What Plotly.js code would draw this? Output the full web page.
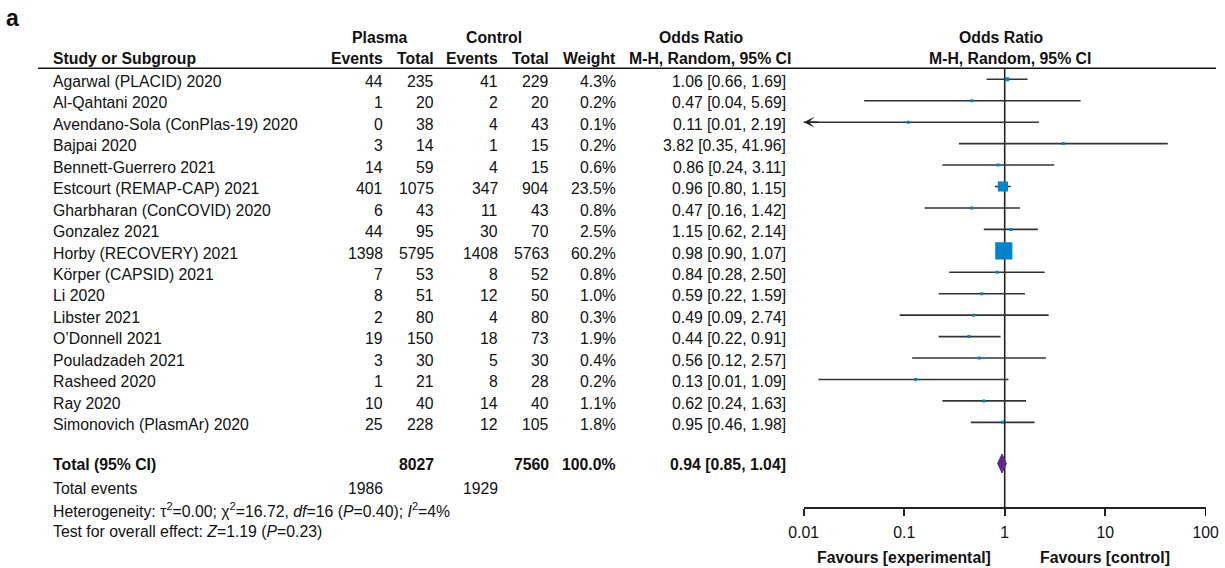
<!DOCTYPE html>
<html>
<head>
<meta charset="utf-8">
<script src="https://cdn.plot.ly/plotly-3.0.1.min.js"></script>
<style>html,body{margin:0;padding:0;background:#fff;}#chart{width:1225px;height:568px;}</style>
</head>
<body>
<div id="chart"></div>
<script>
// ---------------- data ----------------
const studies = ["Agarwal (PLACID) 2020","Al-Qahtani 2020","Avendano-Sola (ConPlas-19) 2020","Bajpai 2020","Bennett-Guerrero 2021","Estcourt (REMAP-CAP) 2021","Gharbharan (ConCOVID) 2020","Gonzalez 2021","Horby (RECOVERY) 2021","Körper (CAPSID) 2021","Li 2020","Libster 2021","O’Donnell 2021","Pouladzadeh 2021","Rasheed 2020","Ray 2020","Simonovich (PlasmAr) 2020"];
const plasmaEvents = [44,1,0,3,14,401,6,44,1398,7,8,2,19,3,1,10,25];
const plasmaTotal  = [235,20,38,14,59,1075,43,95,5795,53,51,80,150,30,21,40,228];
const controlEvents = [41,2,4,1,4,347,11,30,1408,8,12,4,18,5,8,14,12];
const controlTotal  = [229,20,43,15,15,904,43,70,5763,52,50,80,73,30,28,40,105];
const weights = [4.3,0.2,0.1,0.2,0.6,23.5,0.8,2.5,60.2,0.8,1.0,0.3,1.9,0.4,0.2,1.1,1.8];
const oddsRatio = [1.06,0.47,0.11,3.82,0.86,0.96,0.47,1.15,0.98,0.84,0.59,0.49,0.44,0.56,0.13,0.62,0.95];
const ciLow  = [0.66,0.04,0.006,0.35,0.24,0.80,0.16,0.62,0.90,0.28,0.22,0.09,0.22,0.12,0.014,0.24,0.46];
const ciHigh = [1.69,5.69,2.19,41.96,3.11,1.15,1.42,2.14,1.07,2.50,1.59,2.74,0.91,2.57,1.09,1.63,1.98];
const pooledOR = 0.94, pooledLow = 0.85, pooledHigh = 1.04, pooledWeight = 100.0;
const tau2 = "0.00", chi2 = "16.72", dfHet = 16, pHet = "0.40", i2 = "4%";
const zOverall = "1.19", pOverall = "0.23";
const tickValues = [0.01, 0.1, 1, 10, 100];
const tickLabels = ["0.01", "0.1", "1", "10", "100"];
const xLabelLeft = "Favours [experimental]";
const xLabelRight = "Favours [control]";

// ---------------- layout helpers ----------------
const W = 1225, H = 568;
const ROW0 = 79.3, ROWH = 21.44;          // pixel of first row, row pitch
const pxToRow = p => (p - ROW0) / ROWH;
const AXIS_PX = 507;
const xDom = [803.7 / W, 1205.7 / W];
const n = studies.length;
const totalRow = 17.92;
const TOFF = 2.2 / ROWH;                   // text sits slightly below the mark row
const eventsRowT = pxToRow(488.0), hetRowT = pxToRow(509.6), testRowT = pxToRow(531.2);
const head1 = pxToRow(37.0), head2 = pxToRow(58.6);
const axisRow = pxToRow(AXIS_PX);
const FONT = "Liberation Sans, Arial, Helvetica, sans-serif";
const FS = 15.8;
const TXT = "#111";

const ann = [];
function txt(text, px, row, anchor, bold, extra) {
  ann.push(Object.assign({
    text: bold ? "<b>" + text + "</b>" : text,
    x: px / W, xref: "paper", y: row, yref: "y",
    xanchor: anchor, yanchor: "middle", showarrow: false, borderpad: 0,
    font: {family: FONT, size: FS, color: TXT}
  }, extra || {}));
}

// column right edges (px)
const colPE = 384.3, colPT = 435, colCE = 499, colCT = 550, colW = 616.7, colOR = 786.7, colName = 52;

// header
txt("a", 5, pxToRow(17.5), "left", true, {font: {family: FONT, size: 23, color: TXT}});
txt("Plasma", 379.5, head1, "center", true);
txt("Control", 494, head1, "center", true);
txt("Odds Ratio", 701, head1, "center", true);
txt("Odds Ratio", 1001.2, head1, "center", true);
txt("Study or Subgroup", colName, head2, "left", true);
txt("Events", colPE, head2, "right", true);
txt("Total", colPT, head2, "right", true);
txt("Events", colCE, head2, "right", true);
txt("Total", colCT, head2, "right", true);
txt("Weight", colW, head2, "right", true);
txt("M-H, Random, 95% CI", 710, head2, "center", true);
txt("M-H, Random, 95% CI", 1009.7, head2, "center", true);

const fmtCI = (o, l, h) => o.toFixed(2) + " [" + l.toFixed(2) + ", " + h.toFixed(2) + "]";
for (let i = 0; i < n; i++) {
  const r = i + TOFF;
  txt(studies[i], colName, r, "left");
  txt(String(plasmaEvents[i]), colPE, r, "right");
  txt(String(plasmaTotal[i]), colPT, r, "right");
  txt(String(controlEvents[i]), colCE, r, "right");
  txt(String(controlTotal[i]), colCT, r, "right");
  txt(weights[i].toFixed(1) + "%", colW, r, "right");
  txt(fmtCI(oddsRatio[i], ciLow[i], ciHigh[i]), colOR, r, "right");
}
const sum = a => a.reduce((s, v) => s + v, 0);
const tr = totalRow + TOFF * 0.6;
txt("Total (95% CI)", colName, tr, "left", true);
txt(String(sum(plasmaTotal)), colPT, tr, "right", true);
txt(String(sum(controlTotal)), colCT, tr, "right", true);
txt(pooledWeight.toFixed(1) + "%", colW, tr, "right", true);
txt(fmtCI(pooledOR, pooledLow, pooledHigh), colOR, tr, "right", true);
txt("Total events", colName, eventsRowT, "left");
txt(String(sum(plasmaEvents)), colPE, eventsRowT, "right");
txt(String(sum(controlEvents)), colCE, eventsRowT, "right");
txt("Heterogeneity: τ<sup>2</sup>=" + tau2 + "; χ<sup>2</sup>=" + chi2 + ", <i>df</i>=" + dfHet +
    " (<i>P</i>=" + pHet + "); <i>I</i><sup>2</sup>=" + i2, colName, hetRowT, "left");
txt("Test for overall effect: <i>Z</i>=" + zOverall + " (<i>P</i>=" + pOverall + ")", colName, testRowT, "left");
txt(xLabelLeft, 903.8, pxToRow(557.8), "center", true);
txt(xLabelRight, 1104.7, pxToRow(557.8), "center", true);

// arrows for CIs that run past the axis range
const xMinLog = Math.log10(tickValues[0]);
for (let i = 0; i < n; i++) {
  if (ciLow[i] < tickValues[0]) {
    ann.push({x: xMinLog, y: i, xref: "x", yref: "y", ax: xMinLog + 0.16, ay: i, axref: "x", ayref: "y",
      showarrow: true, arrowhead: 3, arrowsize: 1.2, arrowwidth: 1.5, arrowcolor: "#222", standoff: 0, text: ""});
  }
}

// ---------------- traces ----------------
const rows = studies.map((_, i) => i);
const ciX = [], ciY = [];
for (let i = 0; i < n; i++) { ciX.push(ciLow[i], ciHigh[i], null); ciY.push(i, i, null); }

const traces = [
  {x: [1, 1], y: [pxToRow(68.3), axisRow], mode: "lines", line: {color: "#222", width: 1.6},
   hoverinfo: "skip", showlegend: false},
  {x: ciX, y: ciY, mode: "lines", line: {color: "#333", width: 1.6}, hoverinfo: "skip", showlegend: false},
  {x: oddsRatio, y: rows, mode: "markers", showlegend: false,
   marker: {symbol: "square", color: "#0083CB", opacity: 1,
            size: weights.map(w => Math.max(3, 1.8 * Math.pow(w, 0.55))), line: {width: 0}},
   text: studies, hoverinfo: "text+x"},
  {x: [pooledLow, pooledOR, pooledHigh, pooledOR, pooledLow],
   y: [totalRow, totalRow - 0.44, totalRow, totalRow + 0.44, totalRow],
   mode: "lines", fill: "toself", fillcolor: "#5B2A8E", line: {color: "#5B2A8E", width: 1},
   hoverinfo: "skip", showlegend: false}
];

const layout = {
  width: W, height: H,
  margin: {l: 0, r: 0, t: 0, b: 0, pad: 0},
  paper_bgcolor: "#fff", plot_bgcolor: "rgba(0,0,0,0)",
  font: {family: FONT, size: FS, color: TXT},
  showlegend: false,
  xaxis: {
    type: "log", range: [Math.log10(tickValues[0]), Math.log10(tickValues[tickValues.length - 1])],
    domain: xDom, anchor: "free", position: 1 - AXIS_PX / H,
    showline: true, linecolor: "#222", linewidth: 1.6,
    ticks: "outside", ticklen: 7, tickwidth: 1.6, tickcolor: "#222",
    tickvals: tickValues, ticktext: tickLabels, ticklabelstandoff: 3,
    tickfont: {family: FONT, size: FS, color: TXT},
    showgrid: false, zeroline: false, fixedrange: true
  },
  yaxis: {
    range: [pxToRow(H), pxToRow(0)], domain: [0, 1], visible: false,
    showgrid: false, zeroline: false, fixedrange: true
  },
  shapes: [
    {type: "line", xref: "paper", yref: "paper", x0: 38 / W, x1: 1216 / W,
     y0: 1 - 68.3 / H, y1: 1 - 68.3 / H, line: {color: "#111", width: 1.5}}
  ],
  annotations: ann
};

Plotly.newPlot("chart", traces, layout, {staticPlot: true, displayModeBar: false});
</script>
</body>
</html>
